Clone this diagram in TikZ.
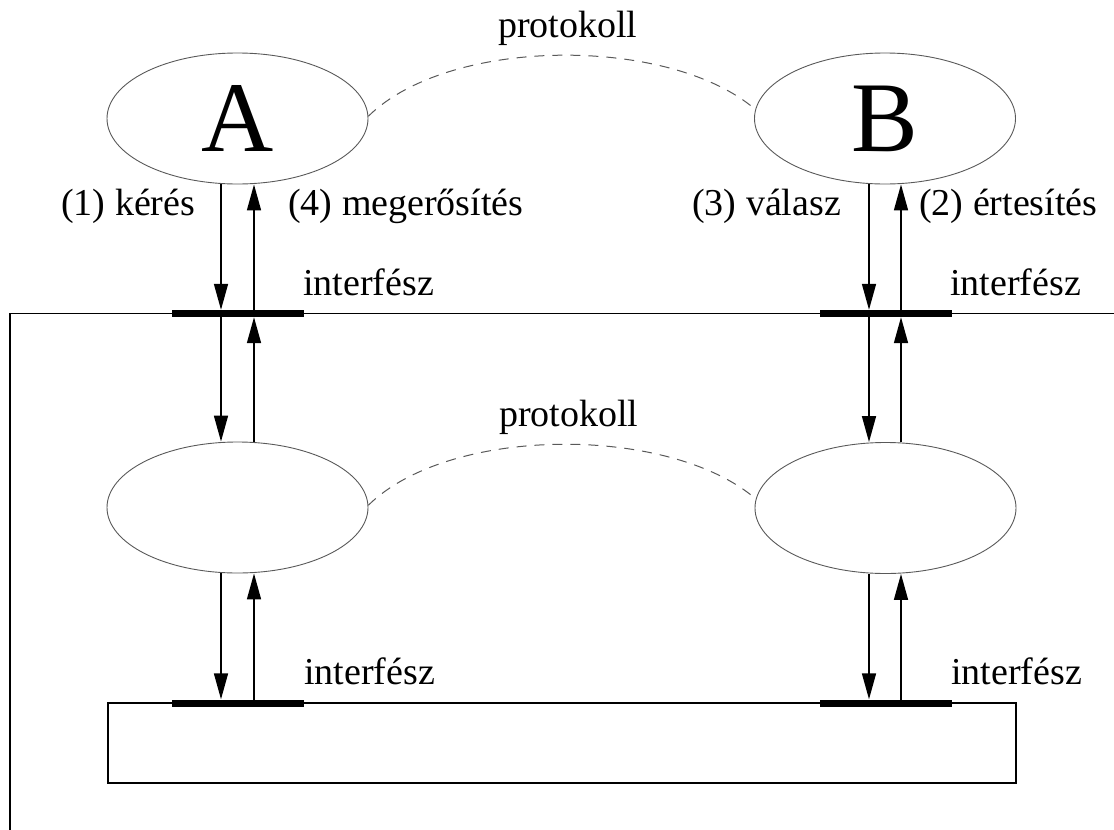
\documentclass[tikz,border=0pt]{standalone}
\usepackage{fontspec}
\setmainfont{Liberation Serif}
\usetikzlibrary{shapes.geometric,arrows.meta}
\begin{document}
\begin{tikzpicture}[x=1pt,y=-1pt,
  ent/.style={ellipse,draw=black!65,line width=0.9pt,minimum width=261pt,minimum height=131pt,inner sep=0pt,font=\fontsize{100}{100}\selectfont},
  lbl/.style={anchor=base west,inner sep=0pt,font=\fontsize{38}{40}\selectfont},
  bar/.style={fill=black,draw=none,minimum width=132pt,minimum height=7pt,inner sep=0pt},
  arr/.style={line width=1.6pt,-{Triangle[length=26pt,width=14pt]}},
  proto/.style={draw=black!65,line width=1pt,dash pattern=on 10pt off 8pt},
  frame/.style={line width=1.4pt}]
\useasboundingbox (0,0) rectangle (1114,830);
% frame
\coordinate (fl) at (10,313.5);
\coordinate (fr) at (1114,313.5);
\coordinate (fb) at (10,830);
\draw[frame] (fb) -- (fl) -- (fr);
\node[draw,frame,minimum width=908pt,minimum height=80pt,inner sep=0pt] (base) at (562,743) {};
% entities
\node[ent] (A) at (237.5,118.5) {A};
\node[ent] (B) at (885,118.5) {B};
\node[ent] (LA) at (237.5,507.5) {};
\node[ent] (LB) at (885.5,508) {};
% interface bars
\node[bar] (i1) at (238,313.5) {};
\node[bar] (i2) at (886,313.5) {};
\node[bar] (i3) at (238,703) {};
\node[bar] (i4) at (886,703) {};
% x positions
\coordinate (xd1) at (221,0);
\coordinate (xu1) at (254,0);
\coordinate (xd2) at (869,0);
\coordinate (xu2) at (901,0);
% left column
\draw[arr] (A.south -| xd1) -- (i1.north -| xd1);
\draw[arr] (i1.center -| xu1) -- (A.south -| xu1);
\draw[arr] (i1.center -| xd1) -- (LA.north -| xd1);
\draw[arr] (LA.north -| xu1) -- (i1.south -| xu1);
\draw[arr] (LA.south -| xd1) -- (i3.north -| xd1);
\draw[arr] (i3.center -| xu1) -- (LA.south -| xu1);
% right column
\draw[arr] (B.south -| xd2) -- (i2.north -| xd2);
\draw[arr] (i2.center -| xu2) -- (B.south -| xu2);
\draw[arr] (i2.center -| xd2) -- (LB.north -| xd2);
\draw[arr] (LB.north -| xu2) -- (i2.south -| xu2);
\draw[arr] (LB.south -| xd2) -- (i4.north -| xd2);
\draw[arr] (i4.center -| xu2) -- (LB.south -| xu2);
% protocols
\draw[proto] (A.1) .. controls (450,36) and (670,36) .. (B.176);
\draw[proto] (LA.1) .. controls (450,425) and (670,425) .. (LB.176);
% labels
\node[lbl] (p1) at (498,37) {protokoll};
\node[lbl] (p2) at (499,426) {protokoll};
\node[lbl] (l1) at (61,215) {(1) kérés};
\node[lbl] (l4) at (288,215) {(4) megerősítés};
\node[lbl] (l3) at (692,215) {(3) válasz};
\node[lbl] (l2) at (919,215) {(2) értesítés};
\node[lbl] (if1) at (303,295) {interfész};
\node[lbl] (if2) at (950,295) {interfész};
\node[lbl] (if3) at (304,684) {interfész};
\node[lbl] (if4) at (951,684) {interfész};
\end{tikzpicture}
\end{document}
